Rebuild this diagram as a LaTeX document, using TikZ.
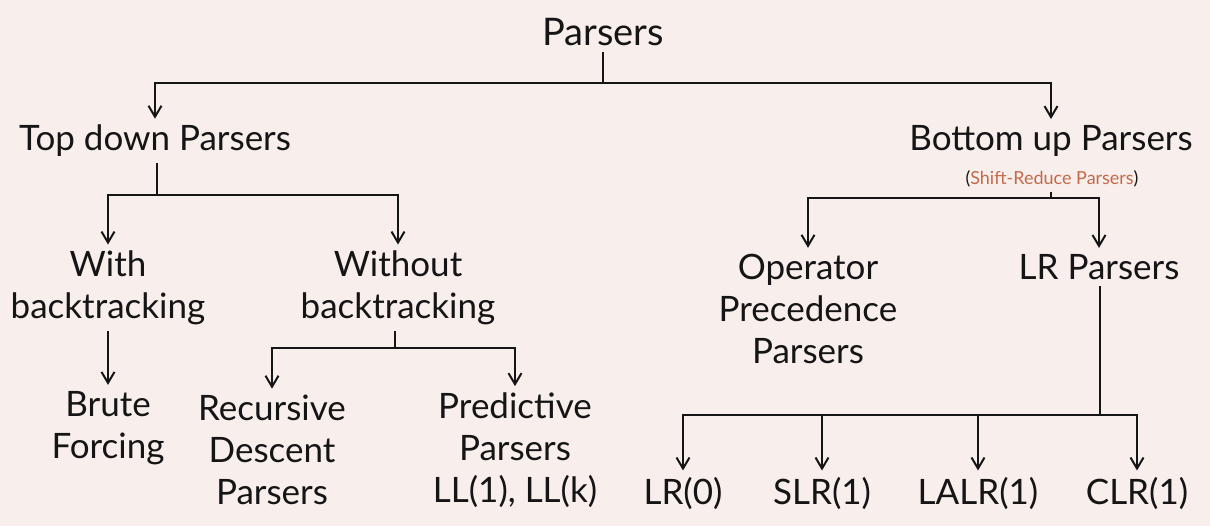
\documentclass[tikz,border=0pt]{standalone}
\usepackage{fontspec}
\setmainfont{Lato}
\usetikzlibrary{arrows.meta}
\definecolor{paper}{HTML}{F8EEEC}
\definecolor{ink}{HTML}{151515}
\definecolor{rust}{HTML}{C46A4A}
\begin{document}
\begin{tikzpicture}[x=0.5pt,y=-0.5pt,
    lbl/.style={text=ink, font=\fontsize{17.5}{21}\selectfont, align=center, inner sep=3pt},
    arr/.style={draw=ink, line width=1pt, -{Straight Barb[length=5.5pt,width=6.5pt]}},
    ln/.style={draw=ink, line width=1pt}]
%% background and size of the page
    \fill[paper] (0,0) rectangle (1210,526);
    \useasboundingbox (0,0) rectangle (1210,526);
%% the labels
    \node[lbl, font=\fontsize{19}{23}\selectfont] (parsers) at (603,32) {Parsers};
    \node[lbl] (topdown) at (155,141) {Top down Parsers};
    \node[lbl] (bottomup) at (1051,141) {Bottom up Parsers};
    \node[text=ink, font=\fontsize{9}{10}\selectfont, inner sep=2pt] (shift) at (1052,179) {(\textcolor{rust}{Shift-Reduce Parsers})};
    \node[lbl] (with) at (108,288) {With\\backtracking};
    \node[lbl] (without) at (398,288) {Without\\backtracking};
    \node[lbl] (operator) at (808,309) {Operator\\Precedence\\Parsers};
    \node[lbl] (lrp) at (1099,267) {LR Parsers};
    \node[lbl] (brute) at (108,428) {Brute\\Forcing};
    \node[lbl] (recursive) at (272,450) {Recursive\\Descent\\Parsers};
    \node[lbl] (predictive) at (515,450) {Predictive\\Parsers\\LL(1), LL(k)};
    \node[lbl] (lr0) at (683,493) {LR(0)};
    \node[lbl] (slr) at (822,493) {SLR(1)};
    \node[lbl] (lalr) at (978,493) {LALR(1)};
    \node[lbl] (clr) at (1137,493) {CLR(1)};
%% the connectors
    \coordinate (pbar) at (603,83);
    \coordinate (tbar) at (157,195);
    \coordinate (bbar) at (1051,198);
    \coordinate (wbar) at (395,348);
    \coordinate (lbar) at (1100,415);
    \draw[ln] (parsers.south -| pbar) -- (pbar);
    \draw[arr] (pbar) -| (topdown.north);
    \draw[arr] (pbar) -| (bottomup.north);
    \draw[ln] (topdown.south -| tbar) -- (tbar);
    \draw[arr] (tbar) -| (with.north);
    \draw[arr] (tbar) -| (without.north);
    \draw[ln] (shift.south -| bbar) -- (bbar);
    \draw[arr] (bbar) -| (operator.north);
    \draw[arr] (bbar) -| (lrp.north);
    \draw[arr] (with.south) -- (brute.north);
    \draw[ln] (without.south -| wbar) -- (wbar);
    \draw[arr] (wbar) -| (recursive.north);
    \draw[arr] (wbar) -| (predictive.north);
    \draw[ln] (lrp.south -| lbar) -- (lbar);
    \foreach \leaf in {lr0,slr,lalr,clr}
        \draw[arr] (lbar) -| (\leaf.north);
\end{tikzpicture}
\end{document}
